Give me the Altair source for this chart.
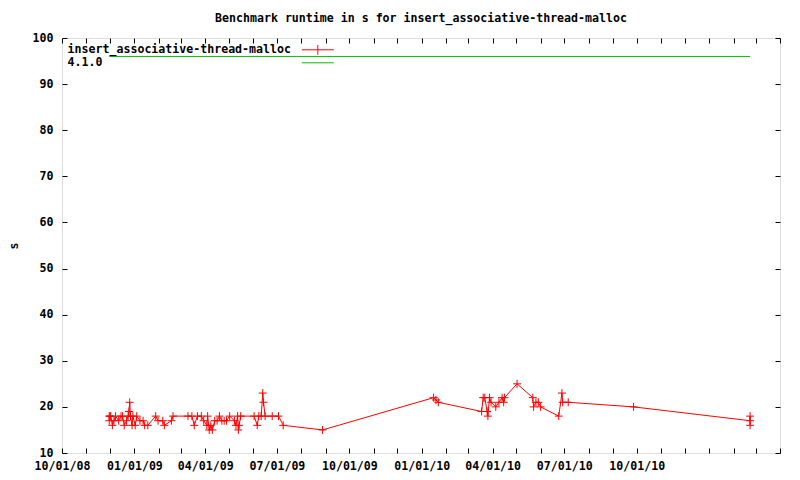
import altair as alt
import pandas as pd

FONT = "DejaVu Sans Mono"
FS = 11.6

title_text = "Benchmark runtime in s for insert_associative-thread-malloc"
series_names = ["insert_associative-thread-malloc", "4.1.0"]
series_colors = ["#ff0000", "#00c000"]

run_dates = [
    "2008-11-30", "2008-11-30", "2008-12-01", "2008-12-02", "2008-12-04", "2008-12-06",
    "2008-12-08", "2008-12-12", "2008-12-15", "2008-12-17", "2008-12-19", "2008-12-22",
    "2008-12-24", "2008-12-25", "2008-12-26", "2008-12-27", "2008-12-29", "2008-12-30",
    "2009-01-02", "2009-01-04", "2009-01-08", "2009-01-12", "2009-01-14", "2009-01-18",
    "2009-01-28", "2009-01-31", "2009-02-06", "2009-02-08", "2009-02-17", "2009-02-19",
    "2009-03-10", "2009-03-15", "2009-03-18", "2009-03-22", "2009-03-27", "2009-03-30",
    "2009-04-03", "2009-04-04", "2009-04-06", "2009-04-08", "2009-04-10", "2009-04-13",
    "2009-04-16", "2009-04-19", "2009-04-22", "2009-04-25", "2009-04-28", "2009-05-02",
    "2009-05-08", "2009-05-10", "2009-05-12", "2009-05-13", "2009-05-14", "2009-05-16",
    "2009-06-02", "2009-06-06", "2009-06-08", "2009-06-11", "2009-06-13", "2009-06-14",
    "2009-06-16", "2009-06-25", "2009-07-03", "2009-07-09", "2009-08-28", "2010-01-16",
    "2010-01-19", "2010-01-22", "2010-03-18", "2010-03-20", "2010-03-22", "2010-03-25",
    "2010-03-26", "2010-03-28", "2010-03-30", "2010-04-05", "2010-04-09", "2010-04-13",
    "2010-04-15", "2010-04-16", "2010-05-02", "2010-05-22", "2010-05-23", "2010-05-26",
    "2010-05-29", "2010-06-01", "2010-06-24", "2010-06-28", "2010-06-29", "2010-07-06",
    "2010-09-27", "2011-02-22", "2011-02-22", "2011-02-22",
]
run_values = [
    18, 17, 18, 18, 16, 17, 18, 17, 18, 18,
    16, 17, 18, 19, 21, 18, 16, 18, 16, 18,
    17, 17, 16, 16, 18, 17, 17, 16, 17, 18,
    18, 18, 16, 18, 18, 17, 16, 18, 15, 16,
    15, 17, 17, 18, 17, 17, 17, 18, 17, 16,
    18, 15, 16, 18, 18, 16, 18, 18, 23, 21,
    18, 18, 18, 16, 15, 22, 21.5, 21, 19, 22,
    22, 19, 18, 22, 21, 20, 21, 22, 21, 22,
    25, 22, 20, 21, 21, 20, 18, 23, 21, 21,
    20, 17, 18, 16,
]

ref_dates = ["2008-11-30", "2011-02-22"]
ref_values = [96, 96]

y_ticks = [10, 20, 30, 40, 50, 60, 70, 80, 90, 100]

runs = pd.DataFrame({
    "date": run_dates,
    "value": run_values,
    "series": series_names[0],
    "idx": list(range(len(run_dates))),
})
ref = pd.DataFrame({
    "date": ref_dates,
    "value": ref_values,
    "series": series_names[1],
    "idx": [0, 1],
})

month_ticks = []
y, m = 2008, 10
while (y, m) <= (2011, 4):
    month_ticks.append(alt.DateTime(year=y, month=m, date=1, utc=True))
    m += 1
    if m > 12:
        m = 1
        y += 1

W, H = 718, 415

xscale = alt.Scale(
    type="utc",
    domain=[alt.DateTime(year=2008, month=10, date=1, utc=True),
            alt.DateTime(year=2011, month=4, date=1, utc=True)],
)
yscale = alt.Scale(domain=[10, 100], nice=False, zero=False)
cscale = alt.Scale(domain=series_names, range=series_colors)

label_common = dict(
    grid=False, domain=False, ticks=False, tickSize=0,
    labelFont=FONT, labelFontSize=FS, labelFontWeight="bold", labelColor="black",
    labelFlush=False, labelOverlap=False,
)
tick_common = dict(
    grid=False, domain=False, labels=False, title=None, ticks=True,
    tickColor="black", tickWidth=1, tickSize=5,
)

# labelled axes (no ticks)
x_labels = alt.Axis(
    orient="bottom", values=month_ticks, title=None, labelPadding=7,
    labelExpr="(utcmonth(datum.value) % 3 == 0 && datum.value < utc(2010, 10, 1)) ? utcFormat(datum.value, '%m/%d/%y') : ''",
    **label_common,
)
y_labels = alt.Axis(
    orient="left", values=y_ticks, format="d", labelPadding=9,
    title="s", titleFont=FONT, titleFontSize=FS, titleFontWeight="bold", titleColor="black",
    titleX=-48, titleY=H / 2, titleBaseline="middle", titleAngle=270,
    **label_common,
)
# inward ticks: axes flipped to the opposite edge
x_ticks_bottom = alt.Axis(orient="top", values=month_ticks, offset=-H, **tick_common)
x_ticks_top = alt.Axis(orient="bottom", values=month_ticks, offset=-H, **tick_common)
y_ticks_left = alt.Axis(orient="right", values=y_ticks, offset=-W, **tick_common)
y_ticks_right = alt.Axis(orient="left", values=y_ticks, offset=-W, **tick_common)

legend = alt.Legend(
    title=None, orient="none", legendX=-6, legendY=6,
    symbolType=alt.ExprRef("datum.label == '4.1.0' ? 'M-4,0H4' : 'M-4,0H4M0,-1.2V1.2'"),
    symbolSize=64, symbolStrokeWidth=1, symbolOffset=256, labelOffset=alt.ExprRef("-256"),
    labelFont=FONT, labelFontSize=FS, labelFontWeight="bold", labelColor="black",
    rowPadding=alt.ExprRef("-2"), padding=0, labelLimit=0,
)

run_line = alt.Chart(runs).mark_line(strokeWidth=1).encode(
    x=alt.X("date:T", scale=xscale, axis=x_labels),
    y=alt.Y("value:Q", scale=yscale, axis=y_labels),
    color=alt.Color("series:N", scale=cscale, legend=legend),
    order="idx:Q",
)

ref_line = alt.Chart(ref).mark_line(strokeWidth=1).encode(
    x=alt.X("date:T", scale=xscale, axis=x_ticks_bottom),
    y=alt.Y("value:Q", scale=yscale, axis=y_ticks_left),
    color=alt.Color("series:N", scale=cscale, legend=legend),
    order="idx:Q",
)

run_points = alt.Chart(runs).mark_point(
    shape="M-1,0H1M0,-1V1", size=64, filled=False, strokeWidth=1, opacity=1, color="#ff0000"
).encode(
    x=alt.X("date:T", scale=xscale, axis=x_ticks_top),
    y=alt.Y("value:Q", scale=yscale, axis=y_ticks_right),
)

chart = alt.layer(run_line, ref_line, run_points).resolve_axis(
    x="independent", y="independent"
).properties(
    width=W,
    height=H,
    title=alt.TitleParams(title_text, font=FONT, fontSize=FS, fontWeight="bold",
                          color="black", offset=7),
    autosize=alt.AutoSizeParams(type="none"),
    padding={"left": 54, "top": 30, "right": 12, "bottom": 19},
).configure_view(
    stroke="black", strokeWidth=1
).configure(background="white")

chart.save("out.html", embed_options={"renderer": "svg", "actions": False})
